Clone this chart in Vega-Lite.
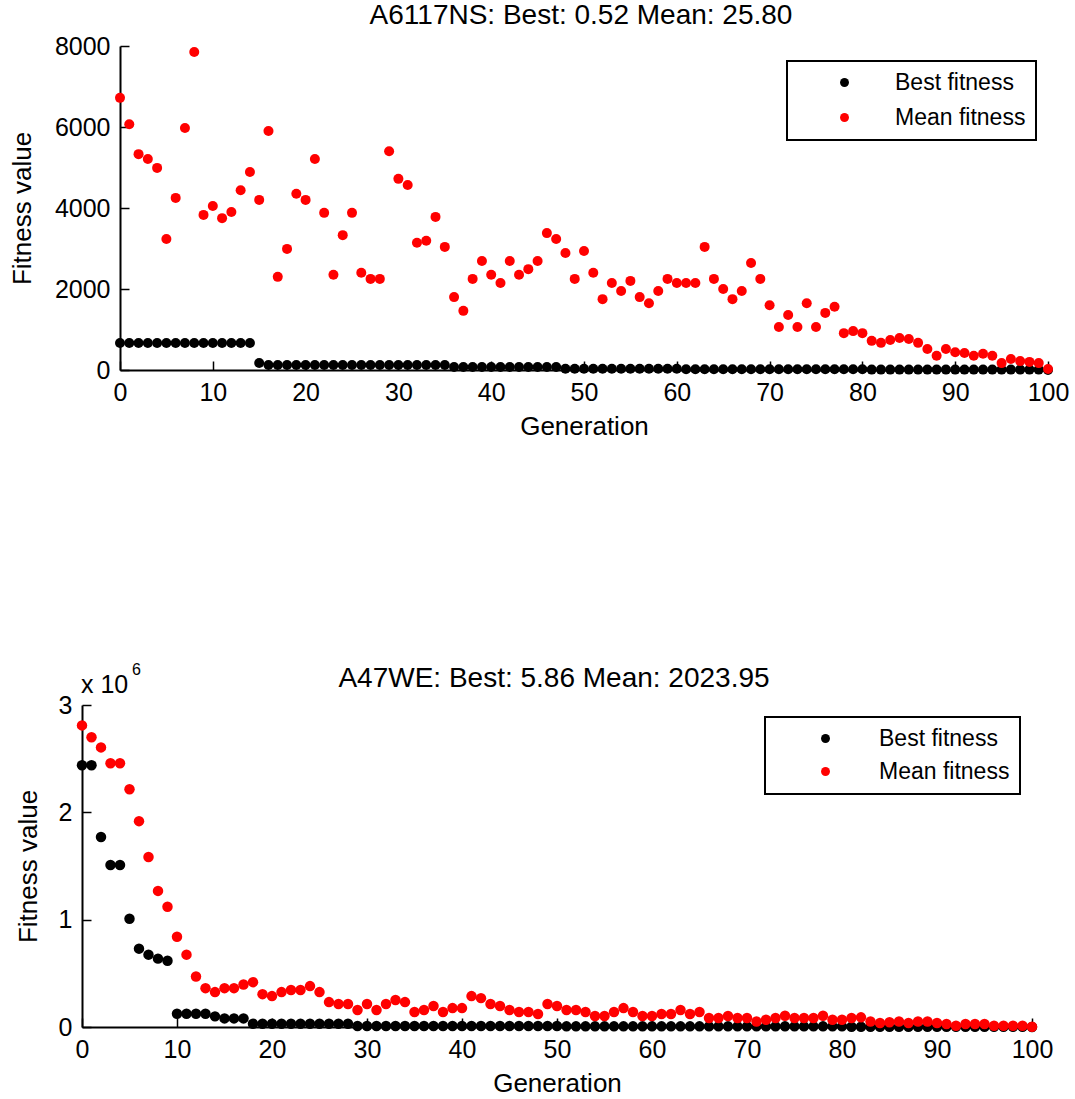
{
  "$schema": "https://vega.github.io/schema/vega-lite/v6.json",
  "autosize": {"type": "none"},
  "padding": {"left": 82, "top": 46, "right": 993, "bottom": 1053},
  "background": "white",
  "bounds": "flush",
  "spacing": 335,
  "resolve": {"scale": {"color": "independent"}, "legend": {"color": "independent"}},
  "config": {
    "view": {"stroke": null},
    "font": "Liberation Sans",
    "axis": {
      "grid": false,
      "domainColor": "black",
      "domainWidth": 2,
      "tickColor": "black",
      "tickWidth": 1.5,
      "tickSize": -9,
      "labelFont": "Liberation Sans",
      "labelFontSize": 25,
      "labelColor": "black",
      "labelPadding": 19,
      "labelFlush": false,
      "titleFont": "Liberation Sans",
      "titleFontSize": 26,
      "titleFontWeight": "normal",
      "titleColor": "black"
    },
    "legend": {
      "strokeColor": "black",
      "strokeWidth": 2,
      "fillColor": "white",
      "padding": 10,
      "labelFont": "Liberation Sans",
      "labelFontSize": 23,
      "labelColor": "black",
      "symbolSize": 80,
      "symbolType": "circle",
      "symbolStrokeWidth": 0
    },
    "title": {"font": "Liberation Sans", "fontSize": 28, "fontWeight": "normal", "color": "black"}
  },
  "datasets": {
    "A6117NS": [
      {"g":0,"Best fitness":667,"Mean fitness":6720},{"g":1,"Best fitness":667,"Mean fitness":6070},{"g":2,"Best fitness":667,"Mean fitness":5330},{"g":3,"Best fitness":667,"Mean fitness":5210},{"g":4,"Best fitness":667,"Mean fitness":4990},{"g":5,"Best fitness":667,"Mean fitness":3235},{"g":6,"Best fitness":667,"Mean fitness":4250},{"g":7,"Best fitness":667,"Mean fitness":5975},{"g":8,"Best fitness":667,"Mean fitness":7850},{"g":9,"Best fitness":667,"Mean fitness":3830},
      {"g":10,"Best fitness":667,"Mean fitness":4050},{"g":11,"Best fitness":667,"Mean fitness":3750},{"g":12,"Best fitness":667,"Mean fitness":3900},{"g":13,"Best fitness":667,"Mean fitness":4440},{"g":14,"Best fitness":667,"Mean fitness":4890},{"g":15,"Best fitness":173,"Mean fitness":4200},{"g":16,"Best fitness":123,"Mean fitness":5900},{"g":17,"Best fitness":123,"Mean fitness":2300},{"g":18,"Best fitness":123,"Mean fitness":2990},{"g":19,"Best fitness":123,"Mean fitness":4350},
      {"g":20,"Best fitness":123,"Mean fitness":4200},{"g":21,"Best fitness":123,"Mean fitness":5210},{"g":22,"Best fitness":123,"Mean fitness":3880},{"g":23,"Best fitness":123,"Mean fitness":2350},{"g":24,"Best fitness":123,"Mean fitness":3330},{"g":25,"Best fitness":123,"Mean fitness":3880},{"g":26,"Best fitness":123,"Mean fitness":2400},{"g":27,"Best fitness":123,"Mean fitness":2250},{"g":28,"Best fitness":123,"Mean fitness":2250},{"g":29,"Best fitness":123,"Mean fitness":5400},
      {"g":30,"Best fitness":123,"Mean fitness":4720},{"g":31,"Best fitness":123,"Mean fitness":4570},{"g":32,"Best fitness":123,"Mean fitness":3140},{"g":33,"Best fitness":123,"Mean fitness":3190},{"g":34,"Best fitness":123,"Mean fitness":3780},{"g":35,"Best fitness":123,"Mean fitness":3040},{"g":36,"Best fitness":75,"Mean fitness":1800},{"g":37,"Best fitness":75,"Mean fitness":1460},{"g":38,"Best fitness":75,"Mean fitness":2250},{"g":39,"Best fitness":75,"Mean fitness":2690},
      {"g":40,"Best fitness":75,"Mean fitness":2350},{"g":41,"Best fitness":75,"Mean fitness":2150},{"g":42,"Best fitness":75,"Mean fitness":2690},{"g":43,"Best fitness":75,"Mean fitness":2350},{"g":44,"Best fitness":75,"Mean fitness":2490},{"g":45,"Best fitness":75,"Mean fitness":2690},{"g":46,"Best fitness":75,"Mean fitness":3380},{"g":47,"Best fitness":75,"Mean fitness":3235},{"g":48,"Best fitness":30,"Mean fitness":2890},{"g":49,"Best fitness":30,"Mean fitness":2250},
      {"g":50,"Best fitness":30,"Mean fitness":2940},{"g":51,"Best fitness":30,"Mean fitness":2400},{"g":52,"Best fitness":30,"Mean fitness":1750},{"g":53,"Best fitness":30,"Mean fitness":2150},{"g":54,"Best fitness":30,"Mean fitness":1950},{"g":55,"Best fitness":30,"Mean fitness":2200},{"g":56,"Best fitness":30,"Mean fitness":1800},{"g":57,"Best fitness":30,"Mean fitness":1650},{"g":58,"Best fitness":30,"Mean fitness":1950},{"g":59,"Best fitness":30,"Mean fitness":2250},
      {"g":60,"Best fitness":30,"Mean fitness":2150},{"g":61,"Best fitness":20,"Mean fitness":2150},{"g":62,"Best fitness":20,"Mean fitness":2150},{"g":63,"Best fitness":20,"Mean fitness":3040},{"g":64,"Best fitness":20,"Mean fitness":2250},{"g":65,"Best fitness":20,"Mean fitness":2000},{"g":66,"Best fitness":20,"Mean fitness":1750},{"g":67,"Best fitness":20,"Mean fitness":1950},{"g":68,"Best fitness":20,"Mean fitness":2640},{"g":69,"Best fitness":20,"Mean fitness":2250},
      {"g":70,"Best fitness":20,"Mean fitness":1600},{"g":71,"Best fitness":20,"Mean fitness":1060},{"g":72,"Best fitness":20,"Mean fitness":1360},{"g":73,"Best fitness":20,"Mean fitness":1060},{"g":74,"Best fitness":20,"Mean fitness":1650},{"g":75,"Best fitness":20,"Mean fitness":1060},{"g":76,"Best fitness":20,"Mean fitness":1410},{"g":77,"Best fitness":20,"Mean fitness":1560},{"g":78,"Best fitness":20,"Mean fitness":910},{"g":79,"Best fitness":20,"Mean fitness":960},
      {"g":80,"Best fitness":20,"Mean fitness":910},{"g":81,"Best fitness":10,"Mean fitness":720},{"g":82,"Best fitness":10,"Mean fitness":670},{"g":83,"Best fitness":10,"Mean fitness":740},{"g":84,"Best fitness":10,"Mean fitness":790},{"g":85,"Best fitness":10,"Mean fitness":765},{"g":86,"Best fitness":10,"Mean fitness":670},{"g":87,"Best fitness":10,"Mean fitness":520},{"g":88,"Best fitness":10,"Mean fitness":350},{"g":89,"Best fitness":10,"Mean fitness":520},
      {"g":90,"Best fitness":10,"Mean fitness":440},{"g":91,"Best fitness":10,"Mean fitness":420},{"g":92,"Best fitness":10,"Mean fitness":350},{"g":93,"Best fitness":10,"Mean fitness":400},{"g":94,"Best fitness":10,"Mean fitness":350},{"g":95,"Best fitness":10,"Mean fitness":170},{"g":96,"Best fitness":10,"Mean fitness":270},{"g":97,"Best fitness":10,"Mean fitness":220},{"g":98,"Best fitness":10,"Mean fitness":200},{"g":99,"Best fitness":10,"Mean fitness":170},
      {"g":100,"Best fitness":0.52,"Mean fitness":25.8}
    ],
    "A47WE": [
      {"g":0,"Best fitness":2438000,"Mean fitness":2810000},{"g":1,"Best fitness":2438000,"Mean fitness":2700000},{"g":2,"Best fitness":1770000,"Mean fitness":2605000},{"g":3,"Best fitness":1510000,"Mean fitness":2457000},{"g":4,"Best fitness":1510000,"Mean fitness":2457000},{"g":5,"Best fitness":1008000,"Mean fitness":2215000},{"g":6,"Best fitness":730000,"Mean fitness":1918000},{"g":7,"Best fitness":674000,"Mean fitness":1584000},{"g":8,"Best fitness":637000,"Mean fitness":1268000},{"g":9,"Best fitness":618000,"Mean fitness":1120000},
      {"g":10,"Best fitness":123000,"Mean fitness":841000},{"g":11,"Best fitness":123000,"Mean fitness":674000},{"g":12,"Best fitness":123000,"Mean fitness":470000},{"g":13,"Best fitness":123000,"Mean fitness":362000},{"g":14,"Best fitness":99000,"Mean fitness":325000},{"g":15,"Best fitness":80000,"Mean fitness":362000},{"g":16,"Best fitness":80000,"Mean fitness":362000},{"g":17,"Best fitness":80000,"Mean fitness":396000},{"g":18,"Best fitness":31000,"Mean fitness":418000},{"g":19,"Best fitness":31000,"Mean fitness":306000},
      {"g":20,"Best fitness":31000,"Mean fitness":288000},{"g":21,"Best fitness":31000,"Mean fitness":325000},{"g":22,"Best fitness":31000,"Mean fitness":344000},{"g":23,"Best fitness":31000,"Mean fitness":344000},{"g":24,"Best fitness":31000,"Mean fitness":381000},{"g":25,"Best fitness":31000,"Mean fitness":325000},{"g":26,"Best fitness":31000,"Mean fitness":232000},{"g":27,"Best fitness":31000,"Mean fitness":214000},{"g":28,"Best fitness":31000,"Mean fitness":214000},{"g":29,"Best fitness":10000,"Mean fitness":158000},
      {"g":30,"Best fitness":10000,"Mean fitness":214000},{"g":31,"Best fitness":10000,"Mean fitness":158000},{"g":32,"Best fitness":10000,"Mean fitness":214000},{"g":33,"Best fitness":10000,"Mean fitness":251000},{"g":34,"Best fitness":10000,"Mean fitness":232000},{"g":35,"Best fitness":10000,"Mean fitness":139000},{"g":36,"Best fitness":10000,"Mean fitness":158000},{"g":37,"Best fitness":10000,"Mean fitness":195000},{"g":38,"Best fitness":10000,"Mean fitness":139000},{"g":39,"Best fitness":10000,"Mean fitness":176000},
      {"g":40,"Best fitness":10000,"Mean fitness":176000},{"g":41,"Best fitness":10000,"Mean fitness":288000},{"g":42,"Best fitness":10000,"Mean fitness":269000},{"g":43,"Best fitness":10000,"Mean fitness":214000},{"g":44,"Best fitness":10000,"Mean fitness":195000},{"g":45,"Best fitness":10000,"Mean fitness":158000},{"g":46,"Best fitness":10000,"Mean fitness":139000},{"g":47,"Best fitness":10000,"Mean fitness":139000},{"g":48,"Best fitness":10000,"Mean fitness":121000},{"g":49,"Best fitness":10000,"Mean fitness":214000},
      {"g":50,"Best fitness":10000,"Mean fitness":195000},{"g":51,"Best fitness":6000,"Mean fitness":158000},{"g":52,"Best fitness":6000,"Mean fitness":158000},{"g":53,"Best fitness":6000,"Mean fitness":139000},{"g":54,"Best fitness":6000,"Mean fitness":102000},{"g":55,"Best fitness":6000,"Mean fitness":102000},{"g":56,"Best fitness":6000,"Mean fitness":139000},{"g":57,"Best fitness":6000,"Mean fitness":176000},{"g":58,"Best fitness":6000,"Mean fitness":139000},{"g":59,"Best fitness":6000,"Mean fitness":102000},
      {"g":60,"Best fitness":6000,"Mean fitness":102000},{"g":61,"Best fitness":6000,"Mean fitness":121000},{"g":62,"Best fitness":6000,"Mean fitness":121000},{"g":63,"Best fitness":6000,"Mean fitness":158000},{"g":64,"Best fitness":6000,"Mean fitness":121000},{"g":65,"Best fitness":6000,"Mean fitness":139000},{"g":66,"Best fitness":6000,"Mean fitness":84000},{"g":67,"Best fitness":6000,"Mean fitness":84000},{"g":68,"Best fitness":6000,"Mean fitness":102000},{"g":69,"Best fitness":6000,"Mean fitness":84000},
      {"g":70,"Best fitness":6000,"Mean fitness":84000},{"g":71,"Best fitness":6000,"Mean fitness":52000},{"g":72,"Best fitness":6000,"Mean fitness":68000},{"g":73,"Best fitness":6000,"Mean fitness":84000},{"g":74,"Best fitness":6000,"Mean fitness":105000},{"g":75,"Best fitness":6000,"Mean fitness":84000},{"g":76,"Best fitness":6000,"Mean fitness":84000},{"g":77,"Best fitness":6000,"Mean fitness":84000},{"g":78,"Best fitness":6000,"Mean fitness":105000},{"g":79,"Best fitness":6000,"Mean fitness":68000},
      {"g":80,"Best fitness":6000,"Mean fitness":68000},{"g":81,"Best fitness":3000,"Mean fitness":84000},{"g":82,"Best fitness":3000,"Mean fitness":90000},{"g":83,"Best fitness":3000,"Mean fitness":52000},{"g":84,"Best fitness":3000,"Mean fitness":37000},{"g":85,"Best fitness":3000,"Mean fitness":45000},{"g":86,"Best fitness":3000,"Mean fitness":52000},{"g":87,"Best fitness":3000,"Mean fitness":37000},{"g":88,"Best fitness":3000,"Mean fitness":52000},{"g":89,"Best fitness":3000,"Mean fitness":52000},
      {"g":90,"Best fitness":3000,"Mean fitness":37000},{"g":91,"Best fitness":3000,"Mean fitness":28000},{"g":92,"Best fitness":3000,"Mean fitness":12000},{"g":93,"Best fitness":3000,"Mean fitness":28000},{"g":94,"Best fitness":3000,"Mean fitness":28000},{"g":95,"Best fitness":3000,"Mean fitness":28000},{"g":96,"Best fitness":3000,"Mean fitness":12000},{"g":97,"Best fitness":3000,"Mean fitness":12000},{"g":98,"Best fitness":3000,"Mean fitness":12000},{"g":99,"Best fitness":3000,"Mean fitness":12000},
      {"g":100,"Best fitness":5.86,"Mean fitness":2024}
    ]
  },
  "vconcat": [
    {
      "width": 966,
      "height": 324,
      "data": {"name": "A6117NS"},
      "transform": [{"fold": ["Best fitness", "Mean fitness"], "as": ["series", "value"]}],
      "title": {"text": "A6117NS: Best: 0.52 Mean: 25.80", "anchor": "middle", "frame": "group", "dx": 16, "offset": -18, "baseline": "alphabetic"},
      "mark": {"type": "point", "filled": true, "size": 100, "opacity": 1, "strokeWidth": 0},
      "encoding": {
        "x": {"field": "g", "type": "quantitative",
              "scale": {"domain": [0, 100], "range": [38, 966], "nice": false, "zero": false},
              "axis": {"values": [0,10,20,30,40,50,60,70,80,90,100], "format": "d", "title": "Generation", "titlePadding": 8}},
        "y": {"field": "value", "type": "quantitative",
              "scale": {"domain": [0, 8000], "nice": false},
              "axis": {"values": [0,2000,4000,6000,8000], "format": "d", "title": "Fitness value", "offset": -38, "titleX": -98, "titleBaseline": "middle"}},
        "color": {"field": "series", "type": "nominal",
                  "scale": {"domain": ["Best fitness", "Mean fitness"], "range": ["#000000", "#ff0000"]},
                  "legend": {"title": null, "orient": "none", "legendX": 705, "legendY": 15, "symbolOffset": 36, "labelOffset": 39, "rowPadding": 11}},
        "order": {"field": "series", "sort": "ascending"}
      }
    },
    {
      "width": 950,
      "height": 322,
      "title": {"text": "A47WE: Best: 5.86 Mean: 2023.95", "anchor": "middle", "frame": "group", "dx": -3, "offset": -53, "baseline": "alphabetic"},
      "layer": [
        {
          "data": {"name": "A47WE"},
          "transform": [{"fold": ["Best fitness", "Mean fitness"], "as": ["series", "value"]}],
          "mark": {"type": "point", "filled": true, "size": 110, "opacity": 1, "strokeWidth": 0},
          "encoding": {
            "x": {"field": "g", "type": "quantitative",
                  "scale": {"domain": [0, 100], "nice": false, "zero": false},
                  "axis": {"values": [0,10,20,30,40,50,60,70,80,90,100], "format": "d", "title": "Generation", "titlePadding": 8}},
            "y": {"field": "value", "type": "quantitative",
                  "scale": {"domain": [0, 3000000], "nice": false},
                  "axis": {"values": [0,1000000,2000000,3000000], "labelExpr": "format(datum.value/1000000, 'd')", "title": "Fitness value", "titleX": -54, "titleBaseline": "middle"}},
            "color": {"field": "series", "type": "nominal",
                      "scale": {"domain": ["Best fitness", "Mean fitness"], "range": ["#000000", "#ff0000"]},
                      "legend": {"title": null, "orient": "none", "legendX": 683, "legendY": 12, "symbolOffset": 39, "labelOffset": 42, "rowPadding": 9}},
            "order": {"field": "series", "sort": "ascending"}
          }
        },
        {
          "data": {"values": [{"label": "x 10"}]},
          "mark": {"type": "text", "align": "left", "baseline": "alphabetic", "dx": -1, "dy": -12, "fontSize": 25, "font": "Liberation Sans", "color": "black"},
          "encoding": {"x": {"datum": 0, "type": "quantitative"}, "y": {"datum": 3000000, "type": "quantitative"}, "text": {"field": "label"}}
        },
        {
          "data": {"values": [{"label": "6"}]},
          "mark": {"type": "text", "align": "left", "baseline": "alphabetic", "dx": 50, "dy": -30, "fontSize": 16, "font": "Liberation Sans", "color": "black"},
          "encoding": {"x": {"datum": 0, "type": "quantitative"}, "y": {"datum": 3000000, "type": "quantitative"}, "text": {"field": "label"}}
        }
      ]
    }
  ]
}
